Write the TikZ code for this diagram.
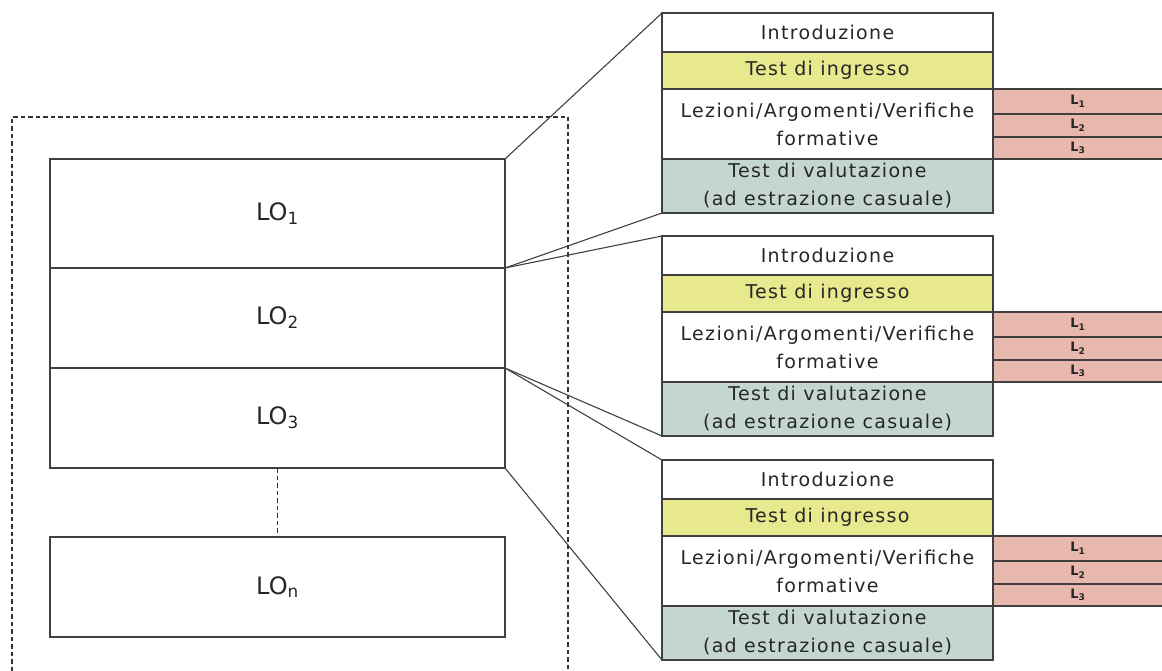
\documentclass[tikz,border=0pt]{standalone}
\usepackage{fontspec}
\setmainfont{DejaVu Sans}
\newfontfamily\panelfont[LetterSpace=7]{DejaVu Sans}
\definecolor{linec}{HTML}{404040}
\definecolor{yel}{HTML}{E8E88E}
\definecolor{tealg}{HTML}{C4D6CF}
\definecolor{pinkc}{HTML}{E8B7AE}
\definecolor{txt}{HTML}{262626}
\tikzset{
  cell/.style={draw=linec, line width=1.4pt, anchor=north west, minimum width=331pt,
    inner sep=0pt, outer sep=0pt, align=center, text=txt,
    font=\panelfont\fontsize{19}{28}\selectfont},
  lrow/.style={draw=linec, line width=1.4pt, fill=pinkc, anchor=north west, minimum width=170pt,
    inner sep=0pt, outer sep=0pt, text=txt, font=\bfseries\fontsize{13}{14}\selectfont},
  lobox/.style={draw=linec, line width=1.4pt, anchor=north west, minimum width=455pt,
    inner sep=0pt, outer sep=0pt, text=txt, font=\fontsize{24}{28}\selectfont},
  conn/.style={draw=linec, line width=1.1pt},
  dashline/.style={draw=linec!80!black, line width=1.8pt, dash pattern=on 4.5pt off 3pt},
}
\newcommand\lopanel[2]{%
  \node[cell, minimum height=39pt] (#1i) at (662,#2) {Introduzione};
  \node[cell, minimum height=37pt, fill=yel] (#1t) at (662,#2+39) {Test di ingresso};
  \node[cell, minimum height=70pt] (#1l) at (662,#2+76) {Lezioni/Argomenti/Verifiche\\formative};
  \node[cell, minimum height=54pt, fill=tealg] (#1v) at (662,#2+146) {Test di valutazione\\(ad estrazione casuale)};
  \node[lrow, minimum height=25pt] (#1a) at (993,#2+76) {L\textsubscript{1}};
  \node[lrow, minimum height=23pt] (#1b) at (993,#2+101) {L\textsubscript{2}};
  \node[lrow, minimum height=22pt] (#1c) at (993,#2+124) {L\textsubscript{3}};
}
\begin{document}
\begin{tikzpicture}[x=1pt, y=-1pt]
\useasboundingbox (0,0) rectangle (1162,671);
% dashed frame
\draw[dashline] (12,671) -- (12,117) -- (568,117) -- (568,671);
% LO boxes
\node[lobox, minimum height=109pt] (lo1) at (50,159) {LO\textsubscript{1}};
\node[lobox, minimum height=100pt] (lo2) at (50,268) {LO\textsubscript{2}};
\node[lobox, minimum height=100pt] (lo3) at (50,368) {LO\textsubscript{3}};
\node[lobox, minimum height=100pt] (lon) at (50,537) {LO\textsubscript{n}};
\draw[dashline] (lo3.south) -- (lon.north);
% panels
\lopanel{pa}{13}
\lopanel{pb}{236}
\lopanel{pc}{460}
% connectors
\draw[conn] (lo1.north east) -- (pai.north west);
\draw[conn] (lo1.south east) -- (pav.south west);
\draw[conn] (lo2.north east) -- (pbi.north west);
\draw[conn] (lo2.south east) -- (pbv.south west);
\draw[conn] (lo3.north east) -- (pci.north west);
\draw[conn] (lo3.south east) -- (pcv.south west);
\end{tikzpicture}
\end{document}
